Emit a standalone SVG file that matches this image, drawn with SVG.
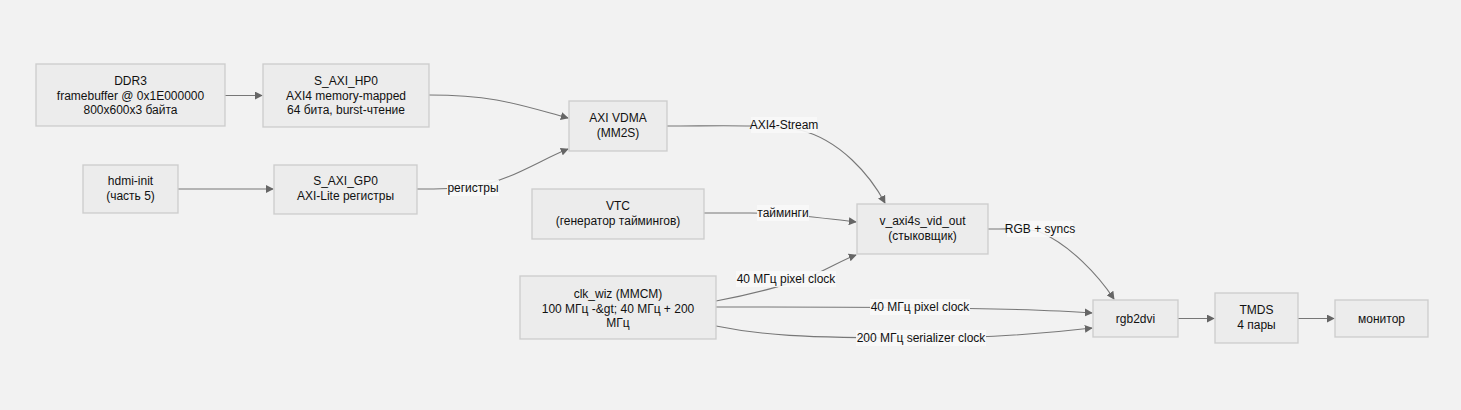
<svg xmlns="http://www.w3.org/2000/svg" width="1461" height="410" viewBox="0 0 1461 410">
<defs>
<marker id="arr" viewBox="0 0 10 10" refX="9" refY="5" markerWidth="8" markerHeight="8" orient="auto" markerUnits="userSpaceOnUse">
<path d="M0,0 L10,5 L0,10 z" fill="#666"/>
</marker>
<style>
.node rect{fill:#ececec;stroke:#cccccc;stroke-width:1.3}
text{font-family:"Liberation Sans",Arial,sans-serif;font-size:12px;fill:#111;text-anchor:middle}
.edges path{fill:none;stroke:#777;stroke-width:1.1;marker-end:url(#arr)}
.lbl rect{fill:#f8f8f8;opacity:0.9}
</style>
</defs>
<rect width="1461" height="410" fill="#f2f2f2"/>
<g class="edges" id="connectors">
<path d="M225,95.5 L262,95.5"/>
<path d="M429,95 C 495,95 520,105 568,118"/>
<path d="M178,189 L273,189"/>
<path d="M417,189 C 440,189 452,189 473,187 C 510,181 540,160 568,149"/>
<path d="M667,126 C 720,126 760,124 800,130 C 840,140 870,175 885,203"/>
<path d="M704,213 L 750,213 C 790,213 820,218 856,222"/>
<path d="M716,301 C 760,293 800,281 820,272 C 835,265 845,259 856,255"/>
<path d="M716,307 C 800,307 1000,306 1092,313"/>
<path d="M716,326 C 760,335 800,338 920,338 C 1000,338 1050,333 1092,328"/>
<path d="M988,229 C 1010,229 1028,228 1040,232 C 1070,245 1098,275 1114,299"/>
<path d="M1178,318.5 L1214,318.5"/>
<path d="M1298,318.5 L1334,318.5"/>
</g>
<g class="lbl" id="edge-labels">
<rect x="447" y="180" width="52" height="16"/><text x="473" y="192">регистры</text>
<rect x="751" y="117" width="66" height="16"/><text x="784" y="129">AXI4-Stream</text>
<rect x="757" y="205" width="52" height="16"/><text x="783" y="217">тайминги</text>
<rect x="736" y="271" width="100" height="16"/><text x="786" y="283">40 МГц pixel clock</text>
<rect x="870" y="299" width="100" height="16"/><text x="920" y="311">40 МГц pixel clock</text>
<rect x="856" y="330" width="130" height="16"/><text x="921" y="342">200 МГц serializer clock</text>
<rect x="1007" y="221" width="66" height="16"/><text x="1040" y="233">RGB + syncs</text>
</g>
<g class="node" id="ddr3"><rect x="36" y="64" width="189" height="62"/><text x="130.5" y="85">DDR3</text><text x="130.5" y="99.5">framebuffer @ 0x1E000000</text><text x="130.5" y="114">800x600x3 байта</text></g>
<g class="node" id="hp0"><rect x="263" y="64" width="166" height="63"/><text x="346" y="85">S_AXI_HP0</text><text x="346" y="99.5">AXI4 memory-mapped</text><text x="346" y="114">64 бита, burst-чтение</text></g>
<g class="node" id="hdmiinit"><rect x="83" y="165" width="95" height="48"/><text x="130.5" y="185">hdmi-init</text><text x="130.5" y="199.5">(часть 5)</text></g>
<g class="node" id="gp0"><rect x="274" y="165" width="143" height="49"/><text x="345.5" y="185">S_AXI_GP0</text><text x="345.5" y="199.5">AXI-Lite регистры</text></g>
<g class="node" id="vdma"><rect x="569" y="101" width="98" height="50"/><text x="618" y="122">AXI VDMA</text><text x="618" y="136.5">(MM2S)</text></g>
<g class="node" id="vtc"><rect x="532" y="189" width="172" height="50"/><text x="618" y="210">VTC</text><text x="618" y="224.5">(генератор таймингов)</text></g>
<g class="node" id="vidout"><rect x="857" y="204" width="131" height="50"/><text x="922.5" y="225">v_axi4s_vid_out</text><text x="922.5" y="239.5">(стыковщик)</text></g>
<g class="node" id="clkwiz"><rect x="520" y="276" width="196" height="63"/><text x="618" y="298">clk_wiz (MMCM)</text><text x="618" y="312.5">100 МГц -&amp;gt; 40 МГц + 200</text><text x="618" y="327">МГц</text></g>
<g class="node" id="rgb2dvi"><rect x="1093" y="300" width="85" height="37"/><text x="1135.5" y="322.5">rgb2dvi</text></g>
<g class="node" id="tmds"><rect x="1215" y="293" width="83" height="50"/><text x="1256.5" y="314">TMDS</text><text x="1256.5" y="328.5">4 пары</text></g>
<g class="node" id="monitor"><rect x="1335" y="300" width="93" height="37"/><text x="1381.5" y="322.5">монитор</text></g>
</svg>
